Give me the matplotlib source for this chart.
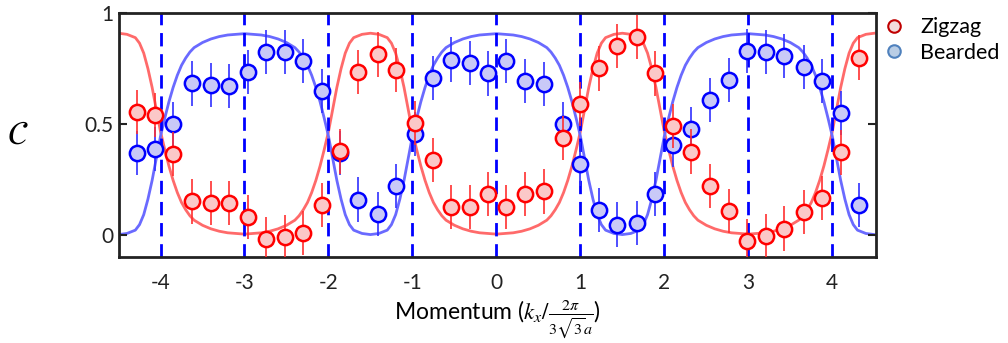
import numpy as np
import matplotlib
matplotlib.use("Agg")
import matplotlib.pyplot as plt
from matplotlib.lines import Line2D

plt.rcParams['font.family'] = ['Lato', 'DejaVu Sans']
plt.rcParams['mathtext.fontset'] = 'stix'

# measured points (momentum in units of 2pi/(3 sqrt3 a))
k_pts = [-4.28, -4.07, -3.85, -3.62, -3.40, -3.18, -2.96, -2.74, -2.52, -2.30,
         -2.08, -1.86, -1.645, -1.41, -1.19, -0.97, -0.75, -0.54, -0.32, -0.10,
         0.12, 0.34, 0.565, 0.79, 1.00, 1.22, 1.44, 1.67, 1.89, 2.10,
         2.32, 2.54, 2.77, 2.98, 3.21, 3.43, 3.66, 3.88, 4.10, 4.32]
zigzag = [0.553, 0.540, 0.364, 0.150, 0.143, 0.143, 0.078, -0.020, -0.010, 0.007,
          0.135, 0.376, 0.736, 0.814, 0.743, 0.503, 0.338, 0.125, 0.125, 0.185,
          0.125, 0.183, 0.195, 0.436, 0.589, 0.751, 0.851, 0.893, 0.728, 0.491,
          0.375, 0.218, 0.105, -0.030, -0.005, 0.027, 0.102, 0.165, 0.371, 0.800]
bearded = [0.368, 0.386, 0.499, 0.683, 0.676, 0.671, 0.736, 0.826, 0.826, 0.785,
           0.649, 0.368, 0.158, 0.093, 0.218, 0.455, 0.709, 0.791, 0.776, 0.728,
           0.785, 0.695, 0.680, 0.500, 0.320, 0.110, 0.045, 0.053, 0.185, 0.405,
           0.477, 0.608, 0.698, 0.830, 0.826, 0.808, 0.758, 0.695, 0.548, 0.135]
err = 0.1

# theory curves
k_th = [-4.5, -4.4, -4.3, -4.25, -4.2, -4.15, -4.1, -4.05, -4.0, -3.95, -3.9, -3.85,
        -3.8, -3.75, -3.7, -3.65, -3.6, -3.5, -3.4, -3.3, -3.2, -3.0,
        -2.8, -2.7, -2.6, -2.5, -2.4, -2.35, -2.3, -2.25, -2.2, -2.15, -2.1, -2.05,
        -2.0, -1.95, -1.9, -1.85, -1.8, -1.75, -1.7, -1.6, -1.5,
        -1.4, -1.3, -1.25, -1.2, -1.15, -1.1, -1.05, -1.0, -0.95, -0.9, -0.85,
        -0.8, -0.75, -0.7, -0.65, -0.6, -0.5, -0.4, -0.3, -0.2, 0.0,
        0.2, 0.3, 0.4, 0.5, 0.6, 0.65, 0.7, 0.75, 0.8, 0.85, 0.9, 0.95,
        1.0, 1.05, 1.1, 1.15, 1.2, 1.25, 1.3, 1.4, 1.5,
        1.6, 1.7, 1.75, 1.8, 1.85, 1.9, 1.95, 2.0, 2.05, 2.1, 2.15,
        2.2, 2.25, 2.3, 2.35, 2.4, 2.5, 2.6, 2.7, 2.8, 3.0,
        3.2, 3.3, 3.4, 3.5, 3.6, 3.65, 3.7, 3.75, 3.8, 3.85, 3.9, 3.95,
        4.0, 4.05, 4.1, 4.15, 4.2, 4.25, 4.3, 4.4, 4.5]
zigzag_th = [0.910, 0.905, 0.890, 0.865, 0.820, 0.750, 0.665, 0.565, 0.465, 0.385, 0.310, 0.245,
             0.190, 0.145, 0.112, 0.085, 0.065, 0.042, 0.026, 0.015, 0.008, 0.002,
             0.008, 0.015, 0.026, 0.042, 0.065, 0.085, 0.112, 0.145, 0.190, 0.245, 0.310, 0.385,
             0.465, 0.565, 0.665, 0.750, 0.820, 0.865, 0.890, 0.905, 0.910,
             0.905, 0.890, 0.865, 0.820, 0.750, 0.665, 0.565, 0.465, 0.385, 0.310, 0.245,
             0.190, 0.145, 0.112, 0.085, 0.065, 0.042, 0.026, 0.015, 0.008, 0.002,
             0.008, 0.015, 0.026, 0.042, 0.065, 0.085, 0.112, 0.145, 0.190, 0.245, 0.310, 0.385,
             0.465, 0.565, 0.665, 0.750, 0.820, 0.865, 0.890, 0.905, 0.910,
             0.905, 0.890, 0.865, 0.820, 0.750, 0.665, 0.565, 0.465, 0.385, 0.310, 0.245,
             0.190, 0.145, 0.112, 0.085, 0.065, 0.042, 0.026, 0.015, 0.008, 0.002,
             0.008, 0.015, 0.026, 0.042, 0.065, 0.085, 0.112, 0.145, 0.190, 0.245, 0.310, 0.385,
             0.465, 0.565, 0.665, 0.750, 0.820, 0.865, 0.890, 0.905, 0.910]
bearded_th = [0.000, 0.005, 0.020, 0.045, 0.090, 0.160, 0.245, 0.345, 0.445, 0.525, 0.600, 0.665,
              0.720, 0.765, 0.798, 0.825, 0.845, 0.868, 0.884, 0.895, 0.902, 0.908,
              0.902, 0.895, 0.884, 0.868, 0.845, 0.825, 0.798, 0.765, 0.720, 0.665, 0.600, 0.525,
              0.445, 0.345, 0.245, 0.160, 0.090, 0.045, 0.020, 0.005, 0.000,
              0.005, 0.020, 0.045, 0.090, 0.160, 0.245, 0.345, 0.445, 0.525, 0.600, 0.665,
              0.720, 0.765, 0.798, 0.825, 0.845, 0.868, 0.884, 0.895, 0.902, 0.908,
              0.902, 0.895, 0.884, 0.868, 0.845, 0.825, 0.798, 0.765, 0.720, 0.665, 0.600, 0.525,
              0.445, 0.345, 0.245, 0.160, 0.090, 0.045, 0.020, 0.005, 0.000,
              0.005, 0.020, 0.045, 0.090, 0.160, 0.245, 0.345, 0.445, 0.525, 0.600, 0.665,
              0.720, 0.765, 0.798, 0.825, 0.845, 0.868, 0.884, 0.895, 0.902, 0.908,
              0.902, 0.895, 0.884, 0.868, 0.845, 0.825, 0.798, 0.765, 0.720, 0.665, 0.600, 0.525,
              0.445, 0.345, 0.245, 0.160, 0.090, 0.045, 0.020, 0.005, 0.000]

x_ticks = [-4, -3, -2, -1, 0, 1, 2, 3, 4]
y_ticks = [0, 0.5, 1]
y_ticklabels = ['0', '0.5', '1']

fig = plt.figure(figsize=(10.08, 3.43), dpi=100)
ax = fig.add_axes([0.1176, 0.2516, 0.7514, 0.7096])

ax.plot(k_th, zigzag_th, color='#ff6a6a', lw=2, zorder=1)
ax.plot(k_th, bearded_th, color='#6a6aff', lw=2, zorder=1)

for k in x_ticks:
    ax.axvline(k, color='#0000ff', lw=2, linestyle=(0, (4.8, 2.8)), zorder=2)

ax.errorbar(k_pts, bearded, yerr=err, fmt='o', ms=11, mew=1.8, mfc='#c9c9f7', mec='#0000ff',
            ecolor='#3030ff', elinewidth=1.2, capsize=0, zorder=3)
ax.errorbar(k_pts, zigzag, yerr=err, fmt='o', ms=11, mew=1.8, mfc='#fbc8c8', mec='#ff0000',
            ecolor='#ff3030', elinewidth=1.2, capsize=0, zorder=4)

ax.set_xlim(-4.5, 4.52)
ax.set_ylim(-0.1, 1.0)
ax.set_xticks(x_ticks)
ax.set_xticklabels([str(t) for t in x_ticks])
ax.set_yticks(y_ticks)
ax.set_yticklabels(y_ticklabels)
ax.tick_params(axis='x', length=0, labelsize=15, pad=12, colors='#222222')
ax.tick_params(axis='y', direction='in', length=6, width=1.5, labelsize=15, right=True,
               colors='#222222')
for s in ax.spines.values():
    s.set_linewidth(2)
    s.set_color('#222222')

ax.set_xlabel(r'Momentum ($k_x/\frac{2\pi}{3\sqrt{3}a}$)', fontsize=16.5, labelpad=3)
ax.set_ylabel(r'$\mathcal{C}$', fontsize=24, rotation=0, labelpad=48, va='center')

handles = [
    Line2D([], [], marker='o', ls='none', ms=9, mew=1.5, mfc='#f2dcdb', mec='#c00000'),
    Line2D([], [], marker='o', ls='none', ms=9, mew=1.5, mfc='#b9cde5', mec='#4f81bd'),
]
fig.legend(handles, ['Zigzag', 'Bearded'], loc='upper left', bbox_to_anchor=(0.866, 0.975),
           frameon=False, fontsize=15.5, handletextpad=0.6, labelspacing=0.25,
           handlelength=1.2, borderaxespad=0)

fig.savefig('out.png', dpi=100)
